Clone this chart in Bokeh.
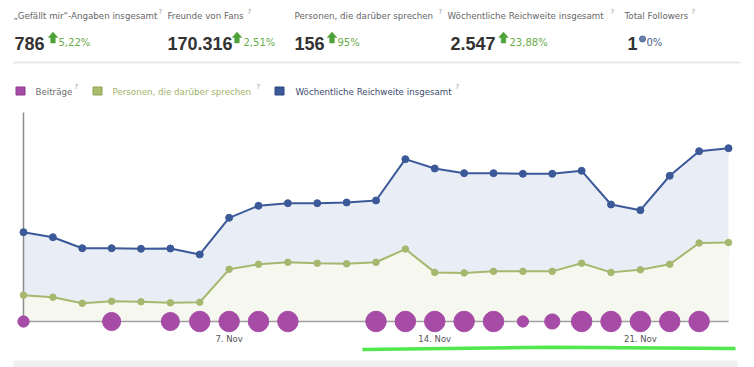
from bokeh.plotting import figure
from bokeh.models import Range1d, FixedTicker
from bokeh.layouts import column
from bokeh.embed import file_html
from bokeh.resources import INLINE
from bokeh.core.properties import value

# ---------------- data ----------------
day_index = list(range(25))  # 0 = 31. Okt, 1..24 = 1.-24. Nov
reach = [1313, 1239, 1077, 1077, 1069, 1073, 985, 1524, 1701, 1739, 1739, 1749, 1779,
         2386, 2249, 2180, 2180, 2171, 2171, 2215, 1720, 1636, 2142, 2503, 2547]
talking = [52, 48, 36, 40, 39, 37, 38, 103, 113, 117, 115, 114, 117,
           143, 97, 96, 99, 99, 99, 115, 97, 102, 113, 155, 156]
posts = [1, 0, 0, 3, 0, 3, 4, 4, 4, 4, 0, 0, 4, 4, 4, 4, 4, 1, 2, 4, 4, 4, 4, 4, 0]
tick_days = [7, 14, 21]
tick_labels = ["7. Nov", "14. Nov", "21. Nov"]

stat_titles = ["\u201eGef\u00e4llt mir\u201c-Angaben insgesamt", "Freunde von Fans",
               "Personen, die dar\u00fcber sprechen", "W\u00f6chentliche Reichweite insgesamt",
               "Total Followers"]
stat_values = ["786", "170.316", "156", "2.547", "1"]
stat_changes = ["5,22%", "2,51%", "95%", "23,88%", "0%"]

legend_names = ["Beitr\u00e4ge", "Personen, die dar\u00fcber sprechen",
                "W\u00f6chentliche Reichweite insgesamt"]

# ---------------- styles ----------------
FONT = value("DejaVu Sans")
BOLD = value("Liberation Sans")
BLUE = "#3b5998"
BLUE_FILL = "#e9edf5"
GREEN = "#a5b86e"
GREEN_FILL = "#f6f7ee"
PURPLE = "#a64ca6"
UPGREEN = "#4fa23a"

W = 754
HEAD_H = 104
CHART_H = 263

# ---------------- header (page pixel coordinates) ----------------
head = figure(width=W, height=HEAD_H, x_range=Range1d(0, W), y_range=Range1d(HEAD_H, 0),
              output_backend="svg", toolbar_location=None, min_border=0)
head.axis.visible = False
head.grid.visible = False
head.outline_line_color = None

title_x = [13, 167, 294, 447, 624]
q_x = [158, 247, 438, 610, 691]
value_x = [14, 167, 294, 450, 627]
arrow_cx = [52.5, 236.5, 331.5, 503]
change_x = [58, 243, 337, 509, 646]

head.text(x=title_x, y=[15.5] * 5, text=stat_titles, text_font=FONT, text_font_size="8.7px",
          text_color="#666666", text_baseline="middle", text_align="left")
head.text(x=q_x, y=[11] * 5, text=["?"] * 5, text_font=FONT, text_font_size="7px",
          text_color="#999999", text_baseline="middle", text_align="left")
head.text(x=value_x, y=[42.7] * 5, text=stat_values, text_font=BOLD, text_font_size="18px",
          text_font_style="bold", text_color="#333333", text_baseline="alphabetic",
          text_align="left")
arrow_xs = [[c - 4.8, c, c + 4.8, c + 2.3, c + 2.3, c - 2.3, c - 2.3] for c in arrow_cx]
arrow_ys = [[37, 31.5, 37, 37, 42.5, 42.5, 37] for _ in arrow_cx]
head.patches(xs=arrow_xs, ys=arrow_ys, fill_color=UPGREEN, line_color=UPGREEN, line_width=0.5)
head.text(x=change_x[:4], y=[42.3] * 4, text=stat_changes[:4], text_font=FONT,
          text_font_size="10px", text_color="#6aab4b", text_baseline="alphabetic",
          text_align="left")
head.scatter(x=[642], y=[38.5], size=6, marker="circle", fill_color="#6a82b0",
             line_color="#4f6794")
head.text(x=change_x[4:], y=[42.3], text=stat_changes[4:], text_font=FONT,
          text_font_size="10px", text_color="#4a5f8a", text_baseline="alphabetic",
          text_align="left")
head.segment(x0=[13], y0=[62], x1=[740], y1=[62], line_color="#e8e8e8", line_width=2)

# legend
sw_x = [20, 97, 279]
head.rect(x=sw_x, y=[90.5] * 3, width=9, height=8,
          fill_color=[PURPLE, "#a9bd6c", BLUE], line_color=["#8a3a8a", "#8fa356", "#2c4680"])
head.text(x=[35, 112, 295], y=[91] * 3, text=legend_names, text_font=FONT,
          text_font_size="8.7px", text_color=["#6e6e6e", "#9fb36a", "#3b4a6e"],
          text_baseline="middle", text_align="left")
head.text(x=[74, 256, 455], y=[86] * 3, text=["?"] * 3, text_font=FONT, text_font_size="7px",
          text_color="#999999", text_baseline="middle", text_align="left")

# ---------------- chart ----------------
px_per_day = 29.375
reach_per_px = 14.697
talk_per_px = 1.9747
BASE = 321          # page y of the zero line
TOP = HEAD_H        # page y of chart top
BOTTOM = HEAD_H + CHART_H
x_start = (0 - 23) / px_per_day
x_end = (W - 23) / px_per_day
chart = figure(width=W, height=CHART_H, x_range=Range1d(x_start, x_end),
               y_range=Range1d((BASE - BOTTOM) * reach_per_px, (BASE - TOP) * reach_per_px),
               output_backend="svg", toolbar_location=None, min_border=0)
chart.extra_y_ranges = {"talk": Range1d((BASE - BOTTOM) * talk_per_px, (BASE - TOP) * talk_per_px)}
chart.grid.visible = False
chart.outline_line_color = None
chart.yaxis.visible = False

chart.varea(x=day_index, y1=[0] * len(day_index), y2=reach, fill_color=BLUE_FILL)
chart.varea(x=day_index, y1=[0] * len(day_index), y2=talking, fill_color=GREEN_FILL,
            y_range_name="talk")

axis_top = (BASE - 112) * reach_per_px
chart.segment(x0=[day_index[0]], y0=[0], x1=[day_index[0]], y1=[axis_top],
              line_color="#8c8c8c", line_width=1.5)
chart.segment(x0=[day_index[0]], y0=[0], x1=[day_index[-1]], y1=[0],
              line_color="#a0a0a0", line_width=1.5)

chart.line(x=day_index, y=reach, line_color=BLUE, line_width=2)
chart.scatter(x=day_index, y=reach, size=7, fill_color=BLUE, line_color=BLUE)
chart.line(x=day_index, y=talking, line_color=GREEN, line_width=2, y_range_name="talk")
chart.scatter(x=day_index, y=talking, size=6.5, fill_color=GREEN, line_color=GREEN,
              y_range_name="talk")

bx = [d for d, n in zip(day_index, posts) if n > 0]
bs = [11.3 * n ** 0.43 for n in posts if n > 0]
chart.scatter(x=bx, y=[0] * len(bx), size=bs, fill_color=PURPLE, line_color=PURPLE)

# hand-drawn green underline
chart.line(x=[(362 - 23) / px_per_day, (550 - 23) / px_per_day, (735 - 23) / px_per_day],
           y=[(BASE - 349) * reach_per_px, (BASE - 346.8) * reach_per_px,
              (BASE - 348) * reach_per_px],
           line_color="#3ee43a", line_width=3.5, line_alpha=0.9)

# light grey band at the bottom
chart.quad(left=[(13 - 23) / px_per_day], right=[(737 - 23) / px_per_day],
           bottom=[(BASE - 368) * reach_per_px], top=[(BASE - 360) * reach_per_px],
           fill_color="#f0f0f0", line_color=None)

xa = chart.xaxis[0]
xa.fixed_location = (BASE - 331) * reach_per_px
xa.ticker = FixedTicker(ticks=tick_days)
xa.major_label_overrides = {d: lab for d, lab in zip(tick_days, tick_labels)}
xa.axis_line_color = None
xa.major_tick_line_color = None
xa.minor_tick_line_color = None
xa.major_tick_out = 0
xa.major_tick_in = 0
xa.major_label_standoff = 2
xa.major_label_text_font = "DejaVu Sans"
xa.major_label_text_font_size = "8.5px"
xa.major_label_text_color = "#555555"

layout = column(head, chart, spacing=0)
open("out.html", "w").write(file_html(layout, INLINE))
